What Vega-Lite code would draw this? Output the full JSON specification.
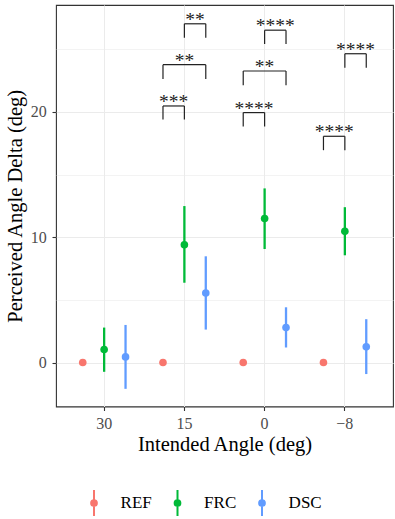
{
  "$schema": "https://vega.github.io/schema/vega-lite/v6.json",
  "width": 337,
  "height": 401.5,
  "autosize": {"type": "none"},
  "padding": {"left": 56, "top": 5, "right": 2, "bottom": 112.5},
  "config": {
    "font": "Liberation Serif",
    "view": {"stroke": "#333333", "strokeWidth": 1.1},
    "axis": {"domain": false, "grid": true, "gridColor": "#ebebeb", "tickColor": "#333333", "tickWidth": 1.1, "tickSize": 4, "labelColor": "#4d4d4d", "labelFontSize": 16, "titleFontSize": 20.5, "titleFontWeight": "normal", "titleColor": "#000000"}
  },
  "datasets": {
    "stats": [
      {"angle": 30, "grp": "REF", "mean": 0, "lo": 0, "hi": 0},
      {"angle": 30, "grp": "FRC", "mean": 1.04, "lo": -0.74, "hi": 2.79},
      {"angle": 30, "grp": "DSC", "mean": 0.45, "lo": -2.1, "hi": 3.0},
      {"angle": 15, "grp": "REF", "mean": 0, "lo": 0, "hi": 0},
      {"angle": 15, "grp": "FRC", "mean": 9.4, "lo": 6.37, "hi": 12.49},
      {"angle": 15, "grp": "DSC", "mean": 5.55, "lo": 2.63, "hi": 8.48},
      {"angle": 0, "grp": "REF", "mean": 0, "lo": 0, "hi": 0},
      {"angle": 0, "grp": "FRC", "mean": 11.5, "lo": 9.06, "hi": 13.9},
      {"angle": 0, "grp": "DSC", "mean": 2.79, "lo": 1.2, "hi": 4.41},
      {"angle": -8, "grp": "REF", "mean": 0, "lo": 0, "hi": 0},
      {"angle": -8, "grp": "FRC", "mean": 10.47, "lo": 8.56, "hi": 12.4},
      {"angle": -8, "grp": "DSC", "mean": 1.25, "lo": -0.92, "hi": 3.46}
    ],
    "brackets": [
      {"id": "b1", "angle": 15, "grp": "REF", "y": 20.48, "ytip": 19.39},
      {"id": "b1", "angle": 15, "grp": "FRC", "y": 20.48, "ytip": 19.39},
      {"id": "b2", "angle": 15, "grp": "REF", "y": 23.78, "ytip": 22.63},
      {"id": "b2", "angle": 15, "grp": "DSC", "y": 23.78, "ytip": 22.63},
      {"id": "b3", "angle": 15, "grp": "FRC", "y": 27.04, "ytip": 25.93},
      {"id": "b3", "angle": 15, "grp": "DSC", "y": 27.04, "ytip": 25.93},
      {"id": "b4", "angle": 0, "grp": "REF", "y": 19.95, "ytip": 18.84},
      {"id": "b4", "angle": 0, "grp": "FRC", "y": 19.95, "ytip": 18.84},
      {"id": "b5", "angle": 0, "grp": "REF", "y": 23.27, "ytip": 22.13},
      {"id": "b5", "angle": 0, "grp": "DSC", "y": 23.27, "ytip": 22.13},
      {"id": "b6", "angle": 0, "grp": "FRC", "y": 26.53, "ytip": 25.42},
      {"id": "b6", "angle": 0, "grp": "DSC", "y": 26.53, "ytip": 25.42},
      {"id": "b7", "angle": -8, "grp": "REF", "y": 18.06, "ytip": 16.95},
      {"id": "b7", "angle": -8, "grp": "FRC", "y": 18.06, "ytip": 16.95},
      {"id": "b8", "angle": -8, "grp": "FRC", "y": 24.65, "ytip": 23.54},
      {"id": "b8", "angle": -8, "grp": "DSC", "y": 24.65, "ytip": 23.54}
    ],
    "labels": [
      {"angle": 15, "pos": "REF-FRC", "y": 20.48, "label": "***"},
      {"angle": 15, "pos": "FRC", "y": 23.78, "label": "**"},
      {"angle": 15, "pos": "FRC-DSC", "y": 27.04, "label": "**"},
      {"angle": 0, "pos": "REF-FRC", "y": 19.95, "label": "****"},
      {"angle": 0, "pos": "FRC", "y": 23.27, "label": "**"},
      {"angle": 0, "pos": "FRC-DSC", "y": 26.53, "label": "****"},
      {"angle": -8, "pos": "REF-FRC", "y": 18.06, "label": "****"},
      {"angle": -8, "pos": "FRC-DSC", "y": 24.65, "label": "****"}
    ]
  },
  "encoding": {
    "x": {
      "field": "angle", "type": "nominal", "sort": [30, 15, 0, -8],
      "scale": {"type": "band", "paddingInner": 0, "paddingOuter": 0.1},
      "axis": {"title": "Intended Angle (deg)", "labelAngle": 0, "labelPadding": 4.7, "labelExpr": "replace(datum.label, '-', '−')", "titleY": 44, "titleBaseline": "alphabetic"}
    },
    "y": {
      "type": "quantitative",
      "scale": {"domain": [-3.51, 28.54], "nice": false, "zero": false},
      "axis": {
        "title": "Perceived Angle Delta (deg)",
        "values": [0, 5, 10, 15, 20, 25],
        "labelExpr": "datum.value % 10 === 0 ? datum.label : ''",
        "tickOpacity": {"condition": {"test": "datum.value % 10 !== 0", "value": 0}, "value": 1},
        "gridWidth": {"condition": {"test": "datum.value % 10 !== 0", "value": 0.6}, "value": 1.2},
        "labelPadding": 5.7,
        "titleX": -35, "titleY": 200.75, "titleAngle": 270, "titleBaseline": "alphabetic", "titleAlign": "center"
      }
    }
  },
  "layer": [
    {
      "data": {"name": "stats"},
      "mark": {"type": "rule", "strokeWidth": 2.3},
      "encoding": {
        "xOffset": {"field": "grp", "type": "nominal", "scale": {"type": "point", "domain": ["_L", "REF", "REF-FRC", "FRC", "FRC-DSC", "DSC", "_R"], "padding": 0.75}},
        "y": {"field": "lo", "type": "quantitative"},
        "y2": {"field": "hi"},
        "color": {
          "field": "grp", "type": "nominal",
          "scale": {"domain": ["REF", "FRC", "DSC"], "range": ["#F8766D", "#00BA38", "#619CFF"]},
          "legend": {
            "title": null, "orient": "none", "direction": "horizontal", "legendX": 24, "legendY": 484,
            "symbolType": "M0,-1L0,1M-0.22,0A0.22,0.22 0 1,0 0.22,0A0.22,0.22 0 1,0 -0.22,0Z",
            "symbolSize": 676, "symbolStrokeWidth": 2, "symbolOpacity": 1,
            "labelFontSize": 17, "labelColor": "#000000", "labelOffset": 12.6, "columnPadding": 11.5,
            "encode": {"symbols": {"update": {"stroke": {"scale": "color", "field": "value"}, "fill": {"scale": "color", "field": "value"}}}}
          }
        }
      }
    },
    {
      "data": {"name": "stats"},
      "mark": {"type": "point", "filled": true, "opacity": 1, "size": 58},
      "encoding": {
        "xOffset": {"field": "grp", "type": "nominal"},
        "y": {"field": "mean", "type": "quantitative"},
        "color": {"field": "grp", "type": "nominal"}
      }
    },
    {
      "data": {"name": "brackets"},
      "mark": {"type": "rule", "strokeWidth": 1.2, "color": "#222222"},
      "encoding": {
        "xOffset": {"field": "grp", "type": "nominal"},
        "y": {"field": "y", "type": "quantitative"},
        "y2": {"field": "ytip"}
      }
    },
    {
      "data": {"name": "brackets"},
      "mark": {"type": "line", "strokeWidth": 1.2, "color": "#222222"},
      "encoding": {
        "xOffset": {"field": "grp", "type": "nominal"},
        "y": {"field": "y", "type": "quantitative"},
        "detail": {"field": "id"}
      }
    },
    {
      "data": {"name": "labels"},
      "mark": {"type": "text", "fontSize": 19.5, "color": "#222222", "baseline": "alphabetic", "dy": 2},
      "encoding": {
        "xOffset": {"field": "pos", "type": "nominal"},
        "y": {"field": "y", "type": "quantitative"},
        "text": {"field": "label"}
      }
    }
  ]
}
